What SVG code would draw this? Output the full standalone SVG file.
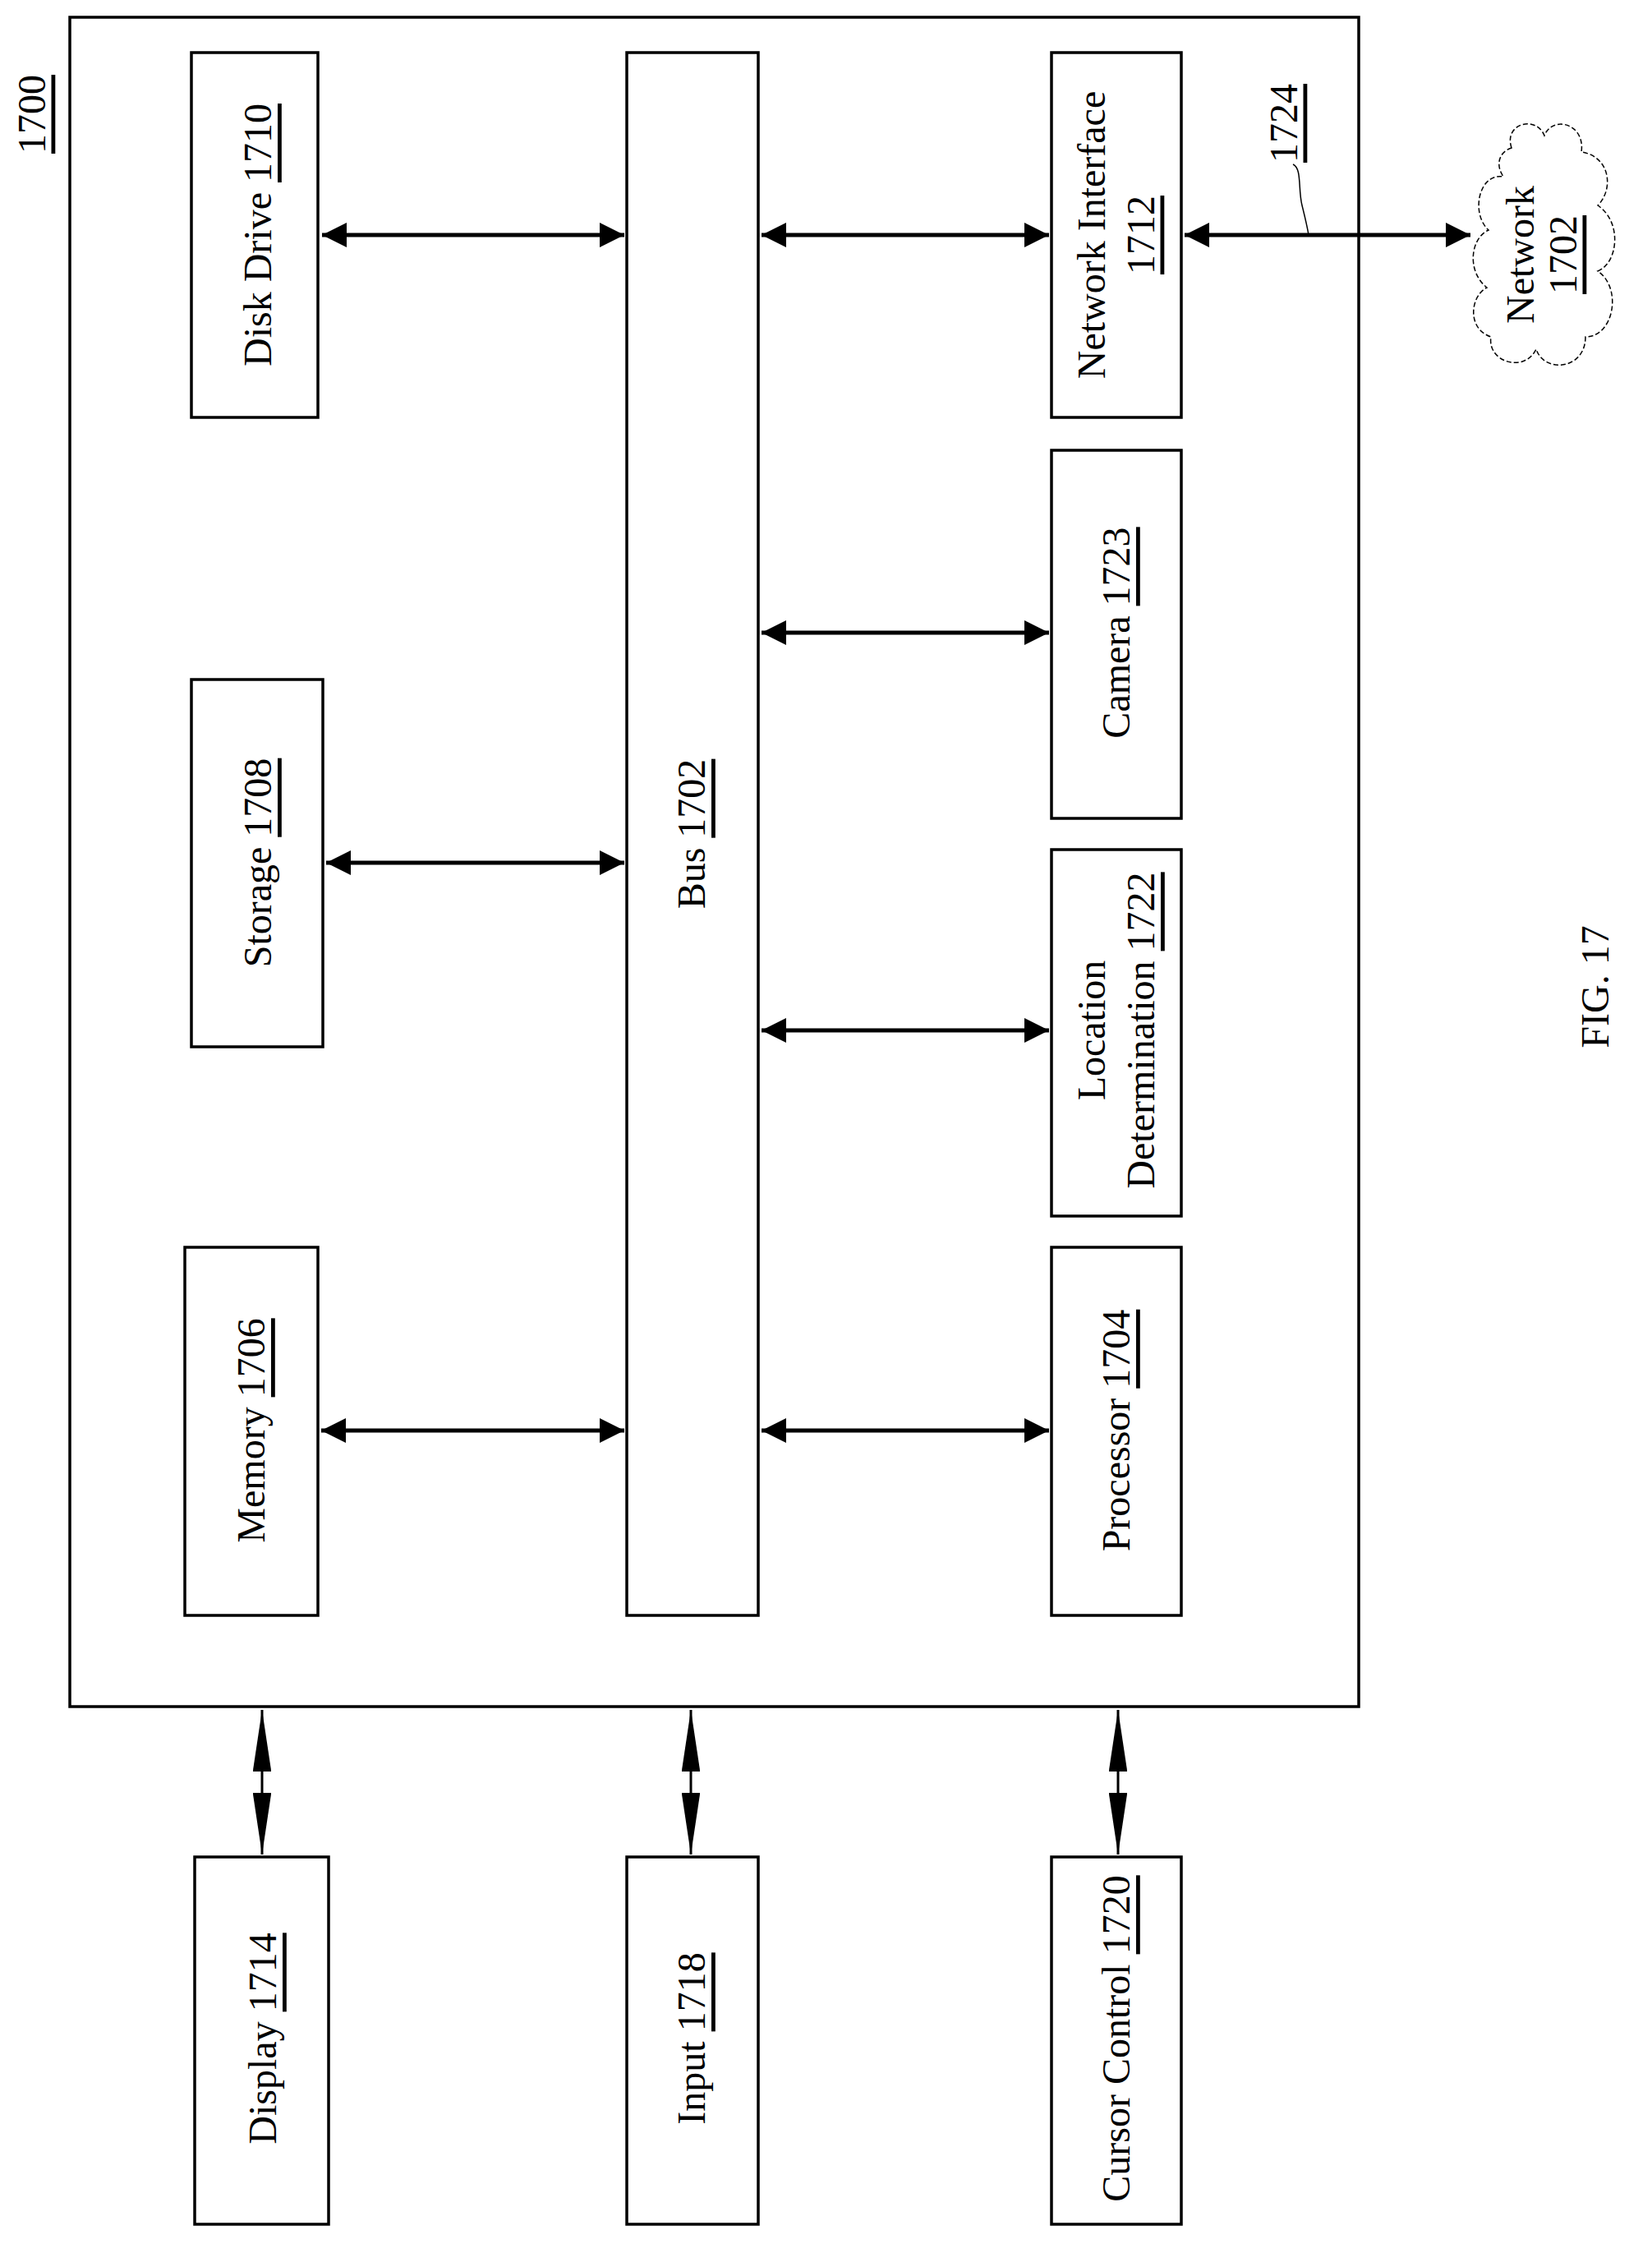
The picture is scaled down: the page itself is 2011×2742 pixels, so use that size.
<svg xmlns="http://www.w3.org/2000/svg" width="2011" height="2742" viewBox="0 0 2011 2742">
<defs>
<style>
.b{fill:#fff;stroke:#000;stroke-width:3.5}
.t{font-family:"Liberation Serif",serif;font-size:48px;text-anchor:middle;dominant-baseline:central}
.u{text-decoration:underline}
.c{stroke:#000;stroke-width:5;fill:none}
.c2{stroke:#000;stroke-width:3;fill:none}
</style>
<marker id="h" viewBox="0 0 10 10" refX="10" refY="5" markerWidth="6" markerHeight="6" orient="auto-start-reverse" markerUnits="strokeWidth"><path d="M0,0L10,5L0,10z"/></marker>
<marker id="s" viewBox="0 0 30 9" refX="30" refY="4.5" markerWidth="25" markerHeight="7.5" orient="auto-start-reverse" markerUnits="strokeWidth"><path d="M0,0L30,4.5L0,9z"/></marker>
</defs>
<rect x="0" y="0" width="2011" height="2742" fill="#fff"/>
<g id="n1700"><rect class="b" x="85" y="21" width="1569" height="2056"/>
<text class="t u" transform="rotate(-90 38 139)" x="38" y="139">1700</text></g>
<g id="disk"><rect class="b" x="233" y="64" width="154" height="444"/><text class="t" transform="rotate(-90 313 286)" x="313" y="286">Disk Drive <tspan class="u">1710</tspan></text></g>
<g id="bus"><rect class="b" x="763" y="64" width="160" height="1902"/><text class="t" transform="rotate(-90 841 1015)" x="841" y="1015">Bus <tspan class="u">1702</tspan></text></g>
<g id="netif"><rect class="b" x="1280" y="64" width="158" height="444"/><text class="t" transform="rotate(-90 1328 286)" x="1328" y="286">Network Interface</text><text class="t u" transform="rotate(-90 1388 286)" x="1388" y="286">1712</text></g>
<g id="camera"><rect class="b" x="1280" y="548" width="158" height="448"/><text class="t" transform="rotate(-90 1358 770)" x="1358" y="770">Camera <tspan class="u">1723</tspan></text></g>
<g id="location"><rect class="b" x="1280" y="1034" width="158" height="446"/><text class="t" transform="rotate(-90 1328 1254)" x="1328" y="1254">Location</text><text class="t" transform="rotate(-90 1388 1254)" x="1388" y="1254">Determination <tspan class="u">1722</tspan></text></g>
<g id="processor"><rect class="b" x="1280" y="1518" width="158" height="448"/><text class="t" transform="rotate(-90 1358 1741)" x="1358" y="1741">Processor <tspan class="u">1704</tspan></text></g>
<g id="storage"><rect class="b" x="233" y="827" width="160" height="447"/><text class="t" transform="rotate(-90 313 1050)" x="313" y="1050">Storage <tspan class="u">1708</tspan></text></g>
<g id="memory"><rect class="b" x="225" y="1518" width="162" height="448"/><text class="t" transform="rotate(-90 305 1741)" x="305" y="1741">Memory <tspan class="u">1706</tspan></text></g>
<g id="display"><rect class="b" x="237" y="2260" width="163" height="447"/><text class="t" transform="rotate(-90 319 2481)" x="319" y="2481">Display <tspan class="u">1714</tspan></text></g>
<g id="input"><rect class="b" x="763" y="2260" width="160" height="447"/><text class="t" transform="rotate(-90 841 2481)" x="841" y="2481">Input <tspan class="u">1718</tspan></text></g>
<g id="cursor"><rect class="b" x="1280" y="2260" width="158" height="447"/><text class="t" transform="rotate(-90 1358 2481)" x="1358" y="2481">Cursor Control <tspan class="u">1720</tspan></text></g>
<g id="network"><path d="M1840,180 C1830,150 1870,140 1880,165 C1890,140 1930,150 1925,185 C1960,190 1965,230 1945,250 C1975,270 1970,320 1945,330 C1975,350 1965,410 1930,410 C1930,450 1880,455 1870,425 C1855,455 1810,440 1815,410 C1785,400 1790,360 1810,350 C1785,330 1790,290 1812,280 C1790,260 1800,210 1830,215 C1820,200 1825,185 1840,180 Z" fill="#fff" stroke="#000" stroke-width="1.5" stroke-dasharray="6 3"/>
<text class="t" transform="rotate(-90 1850 310)" x="1850" y="310">Network</text><text class="t u" transform="rotate(-90 1902 310)" x="1902" y="310">1702</text></g>
<g id="n1724"><text class="t u" transform="rotate(-90 1562 150)" x="1562" y="150">1724</text><path d="M1574,200 C1585,205 1580,230 1585,250 C1590,270 1592,280 1593,286" fill="none" stroke="#000" stroke-width="1.5"/></g>
<text class="t" transform="rotate(-90 1941 1201)" x="1941" y="1201">FIG. 17</text>
<g id="connectors">
<line class="c" x1="392" y1="286" x2="760" y2="286" marker-start="url(#h)" marker-end="url(#h)"/>
<line class="c" x1="927" y1="286" x2="1277" y2="286" marker-start="url(#h)" marker-end="url(#h)"/>
<line class="c" x1="1442" y1="286" x2="1790" y2="286" marker-start="url(#h)" marker-end="url(#h)"/>
<line class="c" x1="927" y1="770" x2="1277" y2="770" marker-start="url(#h)" marker-end="url(#h)"/>
<line class="c" x1="397" y1="1050" x2="760" y2="1050" marker-start="url(#h)" marker-end="url(#h)"/>
<line class="c" x1="927" y1="1254" x2="1277" y2="1254" marker-start="url(#h)" marker-end="url(#h)"/>
<line class="c" x1="391" y1="1741" x2="760" y2="1741" marker-start="url(#h)" marker-end="url(#h)"/>
<line class="c" x1="927" y1="1741" x2="1277" y2="1741" marker-start="url(#h)" marker-end="url(#h)"/>
<line class="c2" x1="319" y1="2081" x2="319" y2="2257" marker-start="url(#s)" marker-end="url(#s)"/>
<line class="c2" x1="841" y1="2081" x2="841" y2="2257" marker-start="url(#s)" marker-end="url(#s)"/>
<line class="c2" x1="1361" y1="2081" x2="1361" y2="2257" marker-start="url(#s)" marker-end="url(#s)"/>
</g>
</svg>
